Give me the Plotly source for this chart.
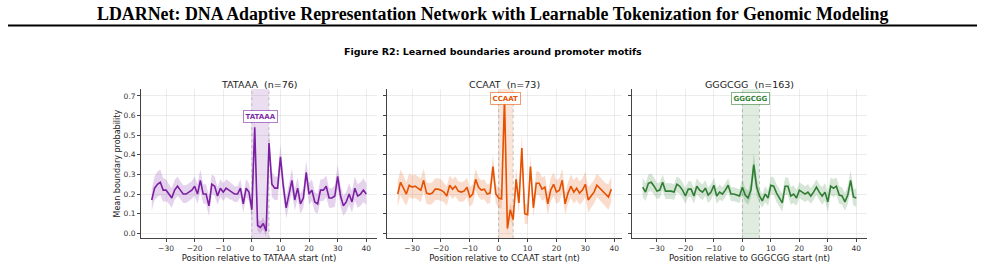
import plotly.graph_objects as go

# ---------------- data ----------------
header = "LDARNet: DNA Adaptive Representation Network with Learnable Tokenization for Genomic Modeling"
suptitle = "Figure R2: Learned boundaries around promoter motifs"
motifs = ["TATAAA", "CCAAT", "GGGCGG"]
counts = [76, 73, 163]
motif_len = [6, 5, 6]
label_y = [0.595, 0.685, 0.685]
colors = ["#7B1FA2", "#E65100", "#2E7D32"]
rgb = [(123, 31, 162), (230, 81, 0), (46, 125, 50)]

tat_x = list(range(-35, 41))
tat_mean = [0.17, 0.23, 0.25, 0.26, 0.22, 0.22, 0.20, 0.18, 0.22, 0.24,
            0.22, 0.20, 0.20, 0.21, 0.22, 0.24, 0.20, 0.27, 0.20, 0.20,
            0.14, 0.25, 0.24, 0.19, 0.23, 0.21, 0.23, 0.22, 0.21, 0.20,
            0.20, 0.23, 0.15, 0.23, 0.21, 0.12, 0.54, 0.04, 0.03, 0.05,
            0.01, 0.46, 0.25, 0.23, 0.23, 0.39, 0.24, 0.13, 0.20, 0.27,
            0.17, 0.23, 0.15, 0.18, 0.31, 0.20, 0.22, 0.16, 0.15, 0.22,
            0.22, 0.24, 0.18, 0.18, 0.19, 0.29, 0.19, 0.14, 0.16, 0.20,
            0.16, 0.23, 0.19, 0.20, 0.22, 0.20]
tat_err = [0.055, 0.06, 0.065, 0.065, 0.06, 0.055,
           0.05, 0.05, 0.05, 0.05, 0.045, 0.045, 0.045, 0.045, 0.045, 0.05,
           0.05, 0.055, 0.05, 0.05, 0.05, 0.05, 0.05, 0.045, 0.045, 0.045,
           0.045, 0.045, 0.04, 0.04, 0.04, 0.045, 0.045, 0.045, 0.045, 0.05,
           0.06, 0.03, 0.03, 0.03, 0.03, 0.07, 0.065, 0.06, 0.06, 0.065,
           0.06, 0.055, 0.055, 0.06, 0.055, 0.055, 0.05, 0.05, 0.06, 0.055,
           0.055, 0.05, 0.05, 0.055, 0.055, 0.055, 0.05, 0.05, 0.055, 0.06,
           0.055, 0.05, 0.05, 0.055, 0.055, 0.06, 0.06, 0.06, 0.06, 0.055]

cca_x = list(range(-35, 40))
cca_mean = [0.20, 0.26, 0.23, 0.20, 0.245, 0.235, 0.24, 0.23, 0.22, 0.27,
            0.205, 0.20, 0.205, 0.225, 0.225, 0.22, 0.21, 0.19, 0.245, 0.225,
            0.24, 0.215, 0.21, 0.215, 0.235, 0.185, 0.20, 0.275, 0.235, 0.22,
            0.225, 0.20, 0.205, 0.34, 0.20, 0.18, 0.175, 0.69, 0.025, 0.12,
            0.07, 0.275, 0.155, 0.435, 0.10, 0.095, 0.34, 0.13, 0.255, 0.255,
            0.225, 0.235, 0.15, 0.22, 0.25, 0.21, 0.22, 0.27, 0.15, 0.205,
            0.24, 0.21, 0.23, 0.205, 0.22, 0.25, 0.17, 0.19, 0.21, 0.245,
            0.23, 0.21, 0.195, 0.185, 0.225]
cca_err = [0.065, 0.065, 0.065, 0.06, 0.06, 0.06, 0.06, 0.06, 0.06, 0.06,
           0.055, 0.055, 0.055, 0.055, 0.055, 0.055, 0.05, 0.05, 0.05, 0.05,
           0.05, 0.05, 0.05, 0.05, 0.05, 0.05, 0.05, 0.055, 0.05, 0.05,
           0.05, 0.05, 0.05, 0.06, 0.05, 0.05, 0.05, 0.04, 0.03, 0.04,
           0.04, 0.06, 0.05, 0.07, 0.05, 0.05, 0.06, 0.05, 0.06, 0.06,
           0.06, 0.06, 0.055, 0.06, 0.06, 0.06, 0.06, 0.06, 0.055, 0.055,
           0.06, 0.06, 0.06, 0.06, 0.06, 0.065, 0.065, 0.06, 0.06, 0.06,
           0.06, 0.06, 0.06, 0.065, 0.065]

ggg_x = list(range(-35, 41))
ggg_mean = [0.235, 0.21, 0.255, 0.26, 0.24, 0.215, 0.22, 0.26, 0.215, 0.215,
            0.215, 0.21, 0.25, 0.24, 0.22, 0.19, 0.225, 0.225, 0.19, 0.24,
            0.22, 0.21, 0.23, 0.195, 0.21, 0.245, 0.19, 0.21, 0.20, 0.22,
            0.245, 0.20, 0.20, 0.195, 0.19, 0.235, 0.195, 0.18, 0.22, 0.35,
            0.237, 0.19, 0.165, 0.20, 0.18, 0.245, 0.24, 0.205, 0.18, 0.155,
            0.24, 0.24, 0.19, 0.20, 0.18, 0.22, 0.21, 0.20, 0.21, 0.19,
            0.21, 0.235, 0.21, 0.19, 0.21, 0.16, 0.24, 0.23, 0.24, 0.195,
            0.19, 0.16, 0.195, 0.27, 0.185, 0.18]
ggg_err = [0.05, 0.045, 0.045, 0.045, 0.045, 0.04, 0.04, 0.04, 0.04, 0.04,
           0.04, 0.04, 0.04, 0.04, 0.04, 0.04, 0.04, 0.04, 0.04, 0.04,
           0.04, 0.04, 0.04, 0.04, 0.04, 0.04, 0.04, 0.04, 0.035, 0.035,
           0.035, 0.035, 0.035, 0.035, 0.035, 0.04, 0.035, 0.035, 0.04, 0.06,
           0.045, 0.035, 0.035, 0.04, 0.04, 0.045, 0.045, 0.045, 0.045, 0.045,
           0.045, 0.045, 0.045, 0.045, 0.04, 0.04, 0.04, 0.04, 0.04, 0.04,
           0.04, 0.04, 0.04, 0.045, 0.045, 0.05, 0.045, 0.045, 0.045, 0.045,
           0.045, 0.045, 0.045, 0.05, 0.045, 0.045]

xs = [tat_x, cca_x, ggg_x]
means = [tat_mean, cca_mean, ggg_mean]
errs = [tat_err, cca_err, ggg_err]

x_ticks = [-30, -20, -10, 0, 10, 20, 30, 40]
y_ticks = [0.0, 0.1, 0.2, 0.3, 0.4, 0.5, 0.6, 0.7]

# ---------------- layout geometry ----------------
W, H = 985, 265
x_domains = [[141 / W, 377 / W], [387 / W, 622 / W], [632 / W, 867 / W]]
y_domain = [(H - 238.2) / H, (H - 89.1) / H]
x_ranges = [[-38.75, 43.75], [-38.7, 42.7], [-38.75, 43.75]]
y_range = [-0.025, 0.735]

FONT = "DejaVu Sans"
fig = go.Figure()
shapes = []
annotations = []

for i in range(3):
    sfx = "" if i == 0 else str(i + 1)
    xa, ya = "x" + sfx, "y" + sfx
    r, g, b = rgb[i]
    lower = [m - e for m, e in zip(means[i], errs[i])]
    upper = [m + e for m, e in zip(means[i], errs[i])]
    fig.add_trace(go.Scatter(x=xs[i], y=lower, mode="lines", line=dict(width=0),
                             xaxis=xa, yaxis=ya, showlegend=False, hoverinfo="skip"))
    fig.add_trace(go.Scatter(x=xs[i], y=upper, mode="lines", line=dict(width=0),
                             fill="tonexty", fillcolor=f"rgba({r},{g},{b},0.2)",
                             xaxis=xa, yaxis=ya, showlegend=False, hoverinfo="skip"))
    fig.add_trace(go.Scatter(x=xs[i], y=means[i], mode="lines",
                             line=dict(color=colors[i], width=1.6),
                             xaxis=xa, yaxis=ya, showlegend=False))
    # motif shading
    shapes.append(dict(type="rect", xref=xa, yref=ya + " domain", x0=0, x1=motif_len[i],
                       y0=0, y1=1, fillcolor=f"rgba({r},{g},{b},0.15)", line=dict(width=0),
                       layer="below"))
    for xv in [0, motif_len[i]]:
        shapes.append(dict(type="line", xref=xa, yref=ya + " domain", x0=xv, x1=xv,
                           y0=0, y1=1, line=dict(color="rgba(150,150,150,0.7)", width=0.8, dash="dot"),
                           layer="below"))
    annotations.append(dict(x=motif_len[i] / 2, y=label_y[i], xref=xa, yref=ya,
                            xanchor="center", yanchor="middle",
                            text=f"<b>{motifs[i]}</b>", showarrow=False,
                            font=dict(family=FONT, size=7, color=colors[i]),
                            bgcolor="white", bordercolor=f"rgba({r},{g},{b},0.6)", borderwidth=1,
                            borderpad=1.5, opacity=0.95))
    annotations.append(dict(x=sum(x_domains[i]) / 2, y=(H - 84) / H, xref="paper", yref="paper",
                            xanchor="center", yanchor="middle",
                            text=f"{motifs[i]}  (n={counts[i]})", showarrow=False,
                            font=dict(family=FONT, size=9.5, color="#222")))
    axcommon = dict(showline=True, linecolor="#444", linewidth=0.9, ticks="outside",
                    ticklen=3, tickwidth=0.8, tickcolor="#444",
                    showgrid=True, gridcolor="rgba(0,0,0,0.07)", gridwidth=0.6,
                    zeroline=False, tickfont=dict(family=FONT, size=7.5, color="#333"))
    fig.update_layout(**{
        "xaxis" + sfx: dict(domain=x_domains[i], range=x_ranges[i], anchor=ya,
                            tickvals=x_ticks, mirror=False,
                            title=dict(text=f"Position relative to {motifs[i]} start (nt)",
                                       font=dict(family=FONT, size=8.5, color="#222"),
                                       standoff=2),
                            **axcommon),
        "yaxis" + sfx: dict(domain=y_domain, range=y_range, anchor=xa,
                            tickvals=y_ticks, tickformat=".1f",
                            showticklabels=(i == 0),
                            title=dict(text="Mean boundary probability" if i == 0 else "",
                                       font=dict(family=FONT, size=8, color="#222"),
                                       standoff=1),
                            **axcommon),
    })

# header + rule + suptitle
annotations.append(dict(x=0.5, y=(H - 14) / H, xref="paper", yref="paper", text=f"<b>{header}</b>",
                        xanchor="center", yanchor="middle",
                        showarrow=False, font=dict(family="Liberation Serif", size=17.9, color="black")))
annotations.append(dict(x=0.5, y=(H - 52) / H, xref="paper", yref="paper", text=f"<b>{suptitle}</b>",
                        xanchor="center", yanchor="middle",
                        showarrow=False, font=dict(family=FONT, size=9.5, color="black")))
shapes.append(dict(type="line", xref="paper", yref="paper", x0=8 / W, x1=977 / W,
                   y0=(H - 25.5) / H, y1=(H - 25.5) / H, line=dict(color="black", width=2)))

fig.update_layout(width=W, height=H, margin=dict(l=0, r=0, t=0, b=0),
                  paper_bgcolor="white", plot_bgcolor="white",
                  shapes=shapes, annotations=annotations, showlegend=False)

fig.write_html("out.html")
